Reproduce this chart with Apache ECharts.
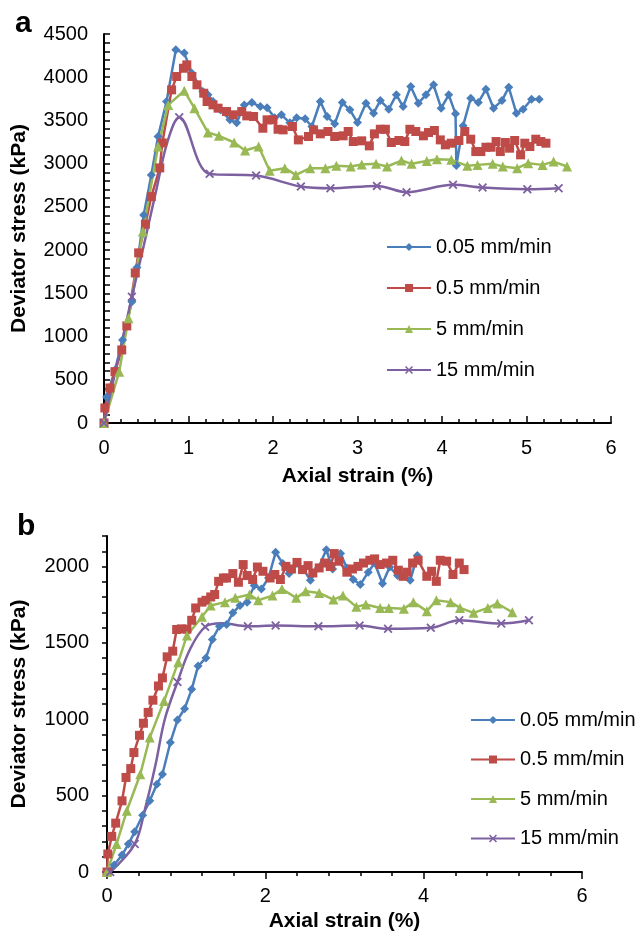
<!DOCTYPE html>
<html>
<head>
<meta charset="utf-8">
<script src="https://cdn.jsdelivr.net/npm/echarts@6/dist/echarts.min.js"></script>
<style>
  html, body { margin: 0; padding: 0; background: #fff; }
  #chart { width: 644px; height: 933px; }
</style>
</head>
<body>
<div id="chart"></div>
<script>
  // legend names
  const rates = ['0.05 mm/min', '0.5 mm/min', '5 mm/min', '15 mm/min']

  // panel a : axial strain (%) / deviator stress (kPa)
  const aStrain005 = [0, 0.03, 0.13, 0.22, 0.33, 0.39, 0.47, 0.56, 0.64, 0.74, 0.85, 0.95, 1.04, 1.17, 1.23, 1.29, 1.38, 1.49, 1.57, 1.66,
    1.75, 1.85, 1.93, 2.02, 2.10, 2.20, 2.28, 2.38, 2.46, 2.56, 2.64, 2.73, 2.82, 2.91, 3.00, 3.10, 3.19, 3.27, 3.37, 3.46,
    3.54, 3.63, 3.72, 3.81, 3.90, 3.99, 4.08, 4.16, 4.17, 4.25, 4.34, 4.43, 4.52, 4.61, 4.71, 4.79, 4.88, 4.96, 5.06, 5.15]
  const aStress005 = [0, 300, 613, 961, 1404, 1800, 2407, 2870, 3314, 3719, 4317, 4279, 4047, 3834, 3796, 3719, 3620, 3507, 3472, 3680,
    3707, 3661, 3646, 3530, 3565, 3472, 3530, 3519, 3430, 3719, 3546, 3461, 3707, 3623, 3476, 3700, 3584, 3730, 3630, 3796,
    3661, 3892, 3700, 3796, 3912, 3642, 3796, 3576, 2980, 3440, 3757, 3707, 3861, 3642, 3730, 3884, 3584, 3630, 3745, 3745]

  const aStrain05 = [0, 0.01, 0.07, 0.13, 0.21, 0.27, 0.37, 0.41, 0.49, 0.56, 0.66, 0.69, 0.80, 0.86, 0.94, 0.98, 1.04, 1.10, 1.18, 1.22,
    1.29, 1.35, 1.45, 1.53, 1.63, 1.69, 1.77, 1.88, 1.93, 2.00, 2.06, 2.12, 2.23, 2.30, 2.42, 2.48, 2.56, 2.65, 2.73, 2.83,
    2.89, 2.95, 3.05, 3.14, 3.20, 3.27, 3.33, 3.40, 3.49, 3.56, 3.62, 3.69, 3.78, 3.84, 3.91, 3.98, 4.04, 4.11, 4.20, 4.27,
    4.34, 4.40, 4.46, 4.52, 4.58, 4.64, 4.69, 4.75, 4.80, 4.86, 4.93, 4.98, 5.04, 5.11, 5.17, 5.23]
  const aStress05 = [0, 174, 405, 594, 845, 1123, 1736, 1968, 2300, 2619, 2951, 3240, 3854, 4008, 4104, 4143, 4008, 3912, 3815, 3719,
    3680, 3642, 3603, 3565, 3603, 3553, 3546, 3410, 3507, 3507, 3398, 3391, 3430, 3275, 3314, 3391, 3345, 3372, 3314, 3322,
    3372, 3256, 3264, 3206, 3345, 3398, 3398, 3245, 3268, 3256, 3398, 3372, 3322, 3360, 3384, 3275, 3218, 3237, 3268, 3372,
    3283, 3140, 3140, 3190, 3190, 3256, 3140, 3245, 3179, 3268, 3102, 3237, 3198, 3283, 3256, 3237]

  const aStrain5 = [0, 0.18, 0.29, 0.46, 0.64, 0.76, 0.95, 1.07, 1.23, 1.36, 1.54, 1.67, 1.83, 1.96, 2.14, 2.27, 2.44, 2.62, 2.75, 2.92,
    3.05, 3.22, 3.35, 3.52, 3.64, 3.82, 3.94, 4.11, 4.30, 4.42, 4.60, 4.72, 4.89, 5.02, 5.19, 5.32, 5.48]
  const aStress5 = [0, 594, 1212, 2214, 3198, 3680, 3843, 3642, 3360, 3322, 3245, 3152, 3198, 2917, 2948, 2870, 2948, 2948, 2975, 2967,
    2990, 2998, 2967, 3036, 2998, 3032, 3052, 3044, 2975, 2986, 2998, 2967, 2948, 3005, 2986, 3024, 2967]

  // 15 mm/min is a smoothed curve; 1 = point carries a marker in the picture
  const aStrain15 = [0, 0.33, 0.47, 0.62, 0.75, 0.89, 1.25, 1.80, 2.33, 2.68, 3.23, 3.58, 4.13, 4.48, 5.01, 5.38]
  const aStress15 = [0, 1460, 2050, 2700, 3250, 3538, 2882, 2862, 2735, 2715, 2743, 2670, 2755, 2723, 2704, 2715]
  const aMark15 = [1, 1, 0, 0, 0, 1, 1, 1, 1, 1, 1, 1, 1, 1, 1, 1]

  // panel b
  const bStrain005 = [0, 0.09, 0.19, 0.27, 0.35, 0.45, 0.54, 0.63, 0.70, 0.80, 0.89, 0.98, 1.07, 1.15, 1.25, 1.33, 1.42, 1.51, 1.59, 1.68,
    1.77, 1.86, 1.95, 2.04, 2.13, 2.22, 2.30, 2.40, 2.48, 2.57, 2.67, 2.77, 2.85, 2.95, 3.03, 3.11, 3.20, 3.30, 3.38, 3.48,
    3.57, 3.67, 3.75, 3.83, 3.92]
  const bStress005 = [0, 46, 111, 183, 263, 372, 466, 575, 640, 848, 995, 1069, 1196, 1348, 1402, 1523, 1609, 1621, 1697, 1745,
    1767, 1876, 1853, 1925, 2093, 2020, 1954, 2020, 1984, 1910, 1991, 2110, 1984, 2085, 1990, 1915, 1882, 1963, 2023, 1889,
    1997, 1941, 1948, 1910, 2072]

  const bStrain05 = [0, 0.01, 0.06, 0.11, 0.19, 0.24, 0.30, 0.34, 0.41, 0.46, 0.52, 0.58, 0.65, 0.70, 0.76, 0.83, 0.88, 0.94, 1.01, 1.07,
    1.12, 1.20, 1.25, 1.31, 1.36, 1.41, 1.47, 1.51, 1.59, 1.66, 1.72, 1.77, 1.84, 1.90, 1.97, 2.06, 2.12, 2.19, 2.26, 2.33,
    2.40, 2.47, 2.54, 2.60, 2.68, 2.75, 2.82, 2.87, 2.93, 3.03, 3.10, 3.17, 3.24, 3.32, 3.38, 3.45, 3.53, 3.61, 3.68, 3.74,
    3.79, 3.86, 3.93, 4.04, 4.10, 4.16, 4.21, 4.29, 4.37, 4.45, 4.51]
  const bStress05 = [0, 118, 233, 320, 466, 619, 677, 782, 895, 974, 1045, 1125, 1218, 1271, 1409, 1446, 1588, 1592, 1590, 1648,
    1729, 1767, 1779, 1801, 1817, 1903, 1925, 1925, 1954, 1897, 2013, 1941, 1915, 1997, 1969, 1925, 1948, 1915, 2001, 1984,
    2027, 1980, 2006, 1958, 1991, 2023, 2000, 2085, 2035, 1963, 1984, 2001, 2023, 2041, 2050, 2013, 2023, 2041, 1976, 1936,
    1963, 2023, 2041, 1936, 1969, 1903, 2041, 2035, 1948, 2023, 1980]

  const bStrain5 = [0, 0.12, 0.25, 0.42, 0.54, 0.72, 0.90, 1.01, 1.20, 1.31, 1.49, 1.62, 1.80, 1.91, 2.09, 2.21, 2.39, 2.51, 2.68, 2.86,
    2.98, 3.15, 3.27, 3.45, 3.56, 3.75, 3.87, 4.04, 4.16, 4.34, 4.46, 4.63, 4.81, 4.93, 5.12]
  const bStress5 = [0, 183, 401, 640, 880, 1119, 1374, 1549, 1671, 1745, 1767, 1795, 1817, 1779, 1810, 1853, 1795, 1838, 1827, 1784,
    1810, 1736, 1752, 1729, 1729, 1723, 1767, 1708, 1779, 1767, 1729, 1697, 1729, 1758, 1701]

  const bStrain15 = [0.04, 0.35, 0.48, 0.61, 0.73, 0.89, 1.05, 1.24, 1.45, 1.78, 2.13, 2.67, 3.19, 3.55, 4.09, 4.45, 4.98, 5.33]
  const bStress15 = [0, 183, 412, 695, 1000, 1244, 1460, 1605, 1628, 1609, 1614, 1609, 1614, 1592, 1599, 1648, 1627, 1648]
  const bMark15 = [1, 1, 0, 0, 0, 1, 0, 1, 0, 1, 1, 1, 1, 1, 1, 1, 1, 1]

  const colors = ['#4a7ebb', '#be4b48', '#98b954', '#7d60a0']
  const symbols = ['diamond', 'rect', 'triangle',
    'path://M0,1.4L1.4,0L5,3.6L8.6,0L10,1.4L6.4,5L10,8.6L8.6,10L5,6.4L1.4,10L0,8.6L3.6,5Z']
  const symbolSizes = [9, 9, 10, 9]
  const font = 'Liberation Sans, Arial, Helvetica, sans-serif'

  function pairs(xs, ys, marks) {
    return xs.map((x, i) => {
      if (marks && !marks[i]) return {value: [x, ys[i]], symbol: 'none'}
      return [x, ys[i]]
    })
  }

  function makeSeries(idx, axis, data, smooth) {
    return {
      name: rates[idx],
      type: 'line',
      xAxisIndex: axis,
      yAxisIndex: axis,
      data: data,
      smooth: smooth ? 0.35 : false,
      symbol: symbols[idx],
      symbolSize: symbolSizes[idx],
      showAllSymbol: true,
      color: colors[idx],
      lineStyle: {width: 2.5, color: colors[idx]},
      itemStyle: {color: colors[idx]},
      emphasis: {disabled: true}
    }
  }

  const myChart = echarts.init(document.getElementById('chart'))

  const axisText = {color: '#000', fontSize: 20, fontFamily: font}
  const nameText = {color: '#000', fontSize: 21, fontWeight: 'bold', fontFamily: font}
  const blackLine = {show: true, onZero: false, lineStyle: {color: '#000', width: 2}}

  myChart.setOption({
    animation: false,
    backgroundColor: '#fff',
    textStyle: {fontFamily: font},
    grid: [
      {left: 104, top: 34, width: 507, height: 389},
      {left: 107, top: 536, width: 475, height: 337}
    ],
    xAxis: [
      {
        type: 'value', gridIndex: 0, min: 0, max: 6, interval: 1,
        axisLine: blackLine,
        axisTick: {inside: true, length: 7, lineStyle: {color: '#000', width: 1.5}},
        minorTick: {show: true, splitNumber: 5, length: 4, lineStyle: {color: '#000', width: 1.5}},
        axisLabel: Object.assign({margin: 15, formatter: v => String(v)}, axisText),
        splitLine: {show: false},
        name: 'Axial strain (%)', nameLocation: 'middle', nameGap: 43, nameTextStyle: nameText
      },
      {
        type: 'value', gridIndex: 1, min: 0, max: 6, interval: 2,
        axisLine: blackLine,
        axisTick: {inside: false, length: 7, lineStyle: {color: '#000', width: 1.5}},
        minorTick: {show: true, splitNumber: 5, length: 4, lineStyle: {color: '#000', width: 1.5}},
        axisLabel: Object.assign({margin: 14, formatter: v => String(v)}, axisText),
        splitLine: {show: false},
        name: 'Axial strain (%)', nameLocation: 'middle', nameGap: 39, nameTextStyle: nameText
      }
    ],
    yAxis: [
      {
        type: 'value', gridIndex: 0, min: 0, max: 4500, interval: 500,
        axisLine: blackLine,
        axisTick: {inside: true, length: 6, lineStyle: {color: '#000', width: 1.5}},
        minorTick: {show: true, splitNumber: 5, length: 6, lineStyle: {color: '#000', width: 1.5}},
        axisLabel: Object.assign({margin: 16, formatter: v => String(v)}, axisText),
        splitLine: {show: false},
        name: 'Deviator stress (kPa)', nameLocation: 'middle', nameGap: 74, nameTextStyle: nameText
      },
      {
        type: 'value', gridIndex: 1, min: 0, max: 2200, interval: 100,
        axisLine: blackLine,
        axisTick: {inside: false, length: 5, lineStyle: {color: '#000', width: 1.5}},
        axisLabel: Object.assign({
          margin: 18,
          formatter: v => (v % 500 === 0 ? String(v) : '')
        }, axisText),
        splitLine: {show: false},
        name: 'Deviator stress (kPa)', nameLocation: 'middle', nameGap: 77, nameTextStyle: nameText
      }
    ],
    legend: [
      {
        data: rates, orient: 'vertical', left: 381, top: 232,
        itemWidth: 44, itemHeight: 10, itemGap: 21,
        textStyle: {color: '#000', fontSize: 20, fontFamily: font},
        selectedMode: false
      },
      {
        data: rates, orient: 'vertical', left: 465, top: 705,
        itemWidth: 44, itemHeight: 10, itemGap: 19.5,
        textStyle: {color: '#000', fontSize: 20, fontFamily: font},
        selectedMode: false
      }
    ],
    graphic: [
      {type: 'text', left: 15, top: 9, style: {text: 'a', fontSize: 30, fontWeight: 'bold', fontFamily: font, fill: '#000'}},
      {type: 'text', left: 17, top: 512, style: {text: 'b', fontSize: 30, fontWeight: 'bold', fontFamily: font, fill: '#000'}}
    ],
    series: [
      makeSeries(0, 0, pairs(aStrain005, aStress005), false),
      makeSeries(1, 0, pairs(aStrain05, aStress05), false),
      makeSeries(2, 0, pairs(aStrain5, aStress5), false),
      makeSeries(3, 0, pairs(aStrain15, aStress15, aMark15), true),
      makeSeries(0, 1, pairs(bStrain005, bStress005), false),
      makeSeries(1, 1, pairs(bStrain05, bStress05), false),
      makeSeries(2, 1, pairs(bStrain5, bStress5), false),
      makeSeries(3, 1, pairs(bStrain15, bStress15, bMark15), true)
    ]
  })
</script>
</body>
</html>
